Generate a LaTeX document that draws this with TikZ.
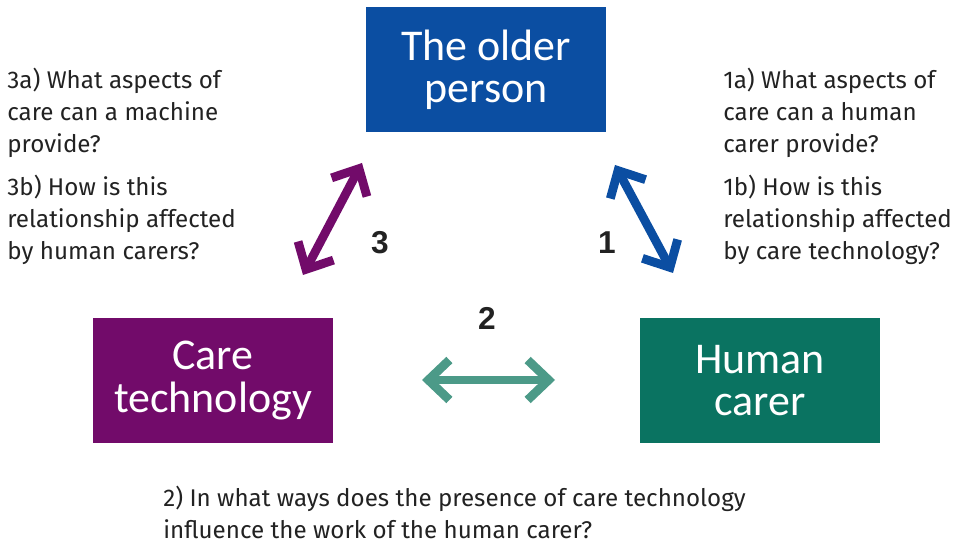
\documentclass[tikz,border=0pt]{standalone}
\usepackage{fontspec}
\setmainfont{Fira Sans}
\newfontfamily\boxfont{Carlito}
\newfontfamily\numfont{Liberation Sans}
\usetikzlibrary{arrows.meta}
\definecolor{oldblue}{HTML}{0B4EA2}
\definecolor{techpurple}{HTML}{720B6A}
\definecolor{carergreen}{HTML}{0A7361}
\definecolor{arrowgreen}{HTML}{4C9A88}
\definecolor{textgray}{HTML}{222222}
\begin{document}
\begin{tikzpicture}[
  box/.style={minimum width=4.8cm, minimum height=2.5cm, inner sep=0pt, text=white,
    align=center, font=\boxfont\fontsize{25}{24}\selectfont},
  question/.style={anchor=north west, inner sep=0pt, align=left, text=textgray,
    font=\fontsize{13.75}{18}\selectfont},
  num/.style={text=textgray, font=\numfont\bfseries\fontsize{18}{20}\selectfont},
  link/.style={line width=5pt, line join=miter,
    {Straight Barb[length=0.42cm, width=0.8cm]}-{Straight Barb[length=0.42cm, width=0.8cm]}}
]
\useasboundingbox (0,0) rectangle (19.08,10.86);

% Boxes
\node[box, fill=oldblue] (older) at (9.72,9.47) {The older\\person};
\node[box, fill=techpurple] (tech) at (4.26,3.25) {Care\\technology};
\node[box, fill=carergreen] (carer) at (15.2,3.25) {Human\\carer};

% Questions
\node[question] (q3a) at (0.14,9.5) {3a) What aspects of\\care can a machine\\provide?};
\node[question] (q3b) at (0.14,7.36) {3b) How is this\\relationship affected\\by human carers?};
\node[question] (q1a) at (14.46,9.5) {1a) What aspects of\\care can a human\\carer provide?};
\node[question] (q1b) at (14.46,7.36) {1b) How is this\\relationship affected\\by care technology?};
\node[question] (q2) at (3.26,1.14) {2) In what ways does the presence of care technology\\influence the work of the human carer?};

% Numbers
\node[num] (n3) at (7.6,6.0) {3};
\node[num] (n1) at (12.14,6.0) {1};
\node[num] (n2) at (9.74,4.5) {2};

% Arrow ends
\coordinate (a3_low) at (6.06,5.36);
\coordinate (a3_up) at (7.24,7.6);
\coordinate (a1_up) at (12.3,7.56);
\coordinate (a1_low) at (13.46,5.4);
\coordinate (a2_left) at (8.44,3.26);
\coordinate (a2_right) at (11.1,3.26);

% Links
\draw[link, techpurple] (a3_low) -- (a3_up);
\draw[link, oldblue] (a1_up) -- (a1_low);
\draw[link, arrowgreen] (a2_left) -- (a2_right);
\end{tikzpicture}
\end{document}
